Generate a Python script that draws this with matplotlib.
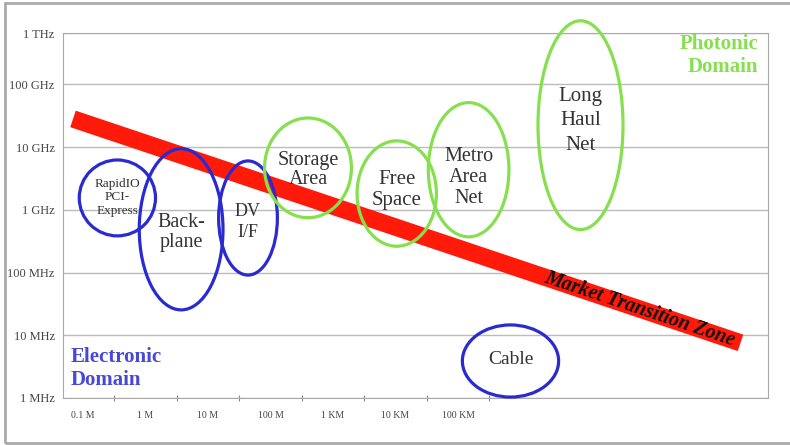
import numpy as np
import matplotlib
matplotlib.use('Agg')
import matplotlib.pyplot as plt
from matplotlib.patches import Ellipse, Rectangle

# axis categories (x: reach, y: bandwidth decades)
reach_labels = ['0.1 M', '1 M', '10 M', '100 M', '1 KM', '10 KM', '100 KM']
freq_labels = ['1 MHz', '10 MHz', '100 MHz', '1 GHz', '10 GHz', '100 GHz', '1 THz']
freq_pos = [0, 1, 2, 3, 4, 5, 5.82]

# application regions: name, centre reach, centre freq, width, height, domain
names = ['RapidIO\nPCI-\nExpress', 'Back-\nplane', 'DV\nI/F', 'Storage\nArea',
         'Free\nSpace', 'Metro\nArea\nNet', 'Long\nHaul\nNet', 'Cable']
cx = [0.55, 1.57, 2.64, 3.60, 5.02, 6.17, 7.96, 6.84]
cy = [3.19, 2.69, 2.87, 3.67, 3.26, 3.64, 4.35, 0.59]
ew = [1.22, 1.34, 0.94, 1.39, 1.27, 1.29, 1.36, 1.54]
eh = [1.21, 2.57, 1.82, 1.59, 1.68, 2.14, 3.33, 1.15]
domain = ['e', 'e', 'e', 'p', 'p', 'p', 'p', 'e']
fsize = [9.5, 14.5, 13, 14.5, 15, 14.5, 15, 14]
lspace = [1.2, 1.1, 1.3, 1.0, 1.15, 1.15, 1.4, 1.0]
ty = [3.20, 2.64, 2.80, 3.63, 3.31, 3.52, 4.42, 0.62]

# market transition zone end points
zone_x = [-0.16, 10.52]
zone_y = [4.45, 0.88]

blue = '#2a2ad0'
green = '#86e04e'
serif = ['Liberation Serif', 'DejaVu Serif']

fig = plt.figure(figsize=(7.9, 4.45), dpi=100)
ax = fig.add_axes([63/790, 47/445, 705/790, 365/445])

ax.set_xlim(-0.32, 10.96)
ax.set_ylim(0, 5.82)

ax.set_xticks(np.arange(0.5, 7, 1))
ax.set_xticklabels([])
ax.set_xticks(np.arange(len(reach_labels)), minor=True)
ax.set_xticklabels(reach_labels, minor=True, fontsize=7, family=serif, color='#444444')
ax.tick_params(axis='x', which='major', length=5, direction='inout', color='#888888')
ax.tick_params(axis='x', which='minor', length=0, pad=9)

ax.set_yticks(freq_pos)
ax.set_yticklabels(freq_labels, fontsize=9, family=serif, color='#444444')
ax.tick_params(axis='y', length=0, pad=6)
ax.grid(axis='y', color='#bbbbbb', lw=1)
for s in ax.spines.values():
    s.set_color('#aaaaaa')

ax.plot(zone_x, zone_y, color='#ff1a0a', lw=12.5, solid_capstyle='butt', zorder=2)
ang = np.degrees(np.arctan2(-(343 - 119), 740 - 73))
ax.text(8.9, 1.42, 'Market Transition Zone', rotation=ang, ha='center', va='center',
        fontsize=14.5, fontweight='bold', fontstyle='italic', family=serif,
        color='#111111', zorder=3, rotation_mode='anchor')

for i in range(len(names)):
    col = blue if domain[i] == 'e' else green
    ax.add_patch(Ellipse((cx[i], cy[i]), ew[i], eh[i], fill=False, ec=col, lw=2.3,
                         zorder=4, clip_on=False))
    ax.text(cx[i], ty[i], names[i], ha='center', va='center', fontsize=fsize[i],
            family=serif, color='#333333', linespacing=lspace[i], zorder=5)

ax.text(10.8, 5.80, 'Photonic\nDomain', ha='right', va='top', fontsize=15,
        fontweight='bold', family=serif, color=green, linespacing=1.2)
ax.text(-0.2, 0.12, 'Electronic\nDomain', ha='left', va='bottom', fontsize=15,
        fontweight='bold', family=serif, color='#4848d8', linespacing=1.2)

fig.patches.append(Rectangle((5/790, 2/445), 790/790, 440/445, transform=fig.transFigure,
                             fill=False, ec='#aaaaaa', lw=2))

fig.savefig('out.png', dpi=100)
